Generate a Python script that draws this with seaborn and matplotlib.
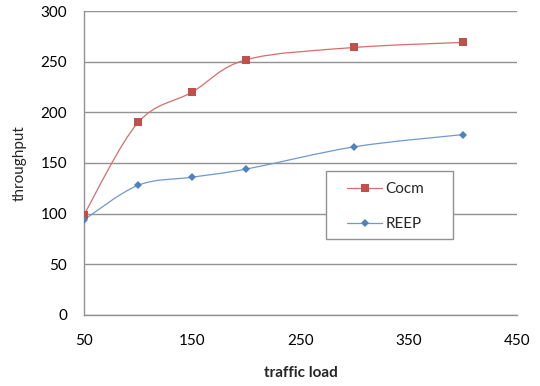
import matplotlib
matplotlib.use('Agg')
import matplotlib.pyplot as plt
from matplotlib.path import Path
from matplotlib.patches import PathPatch, Rectangle
import seaborn as sns
import pandas as pd
import numpy as np

traffic_load = [50, 100, 150, 200, 300, 400]
cocm = [99, 190, 220, 252, 264, 269]
reep = [94, 128, 136, 144, 166, 178]
x_ticks = [50, 150, 250, 350, 450]
y_ticks = [0, 50, 100, 150, 200, 250, 300]

red = '#C0504D'
blue = '#4F81BD'
red_line = '#D46E6C'
blue_line = '#7199CC'
grid = '#929292'

df = pd.DataFrame({'traffic load': traffic_load * 2,
                   'throughput': cocm + reep,
                   'series': ['Cocm'] * len(cocm) + ['REEP'] * len(reep)})

sns.set_style('white')
plt.rcParams['font.family'] = ['Lato', 'DejaVu Sans']

fig = plt.figure(figsize=(5.4, 3.86), dpi=100)
ax = fig.add_axes([0.1556, 0.184, 0.8014, 0.7875])


def smooth_path(xs, ys):
    # excel style smoothed line: cubic bezier through the points
    p = np.column_stack([xs, ys]).astype(float)
    ext = np.vstack([p[0], p, p[-1]])
    verts = [p[0]]
    codes = [Path.MOVETO]
    for i in range(1, len(ext) - 2):
        c1 = ext[i] + (ext[i + 1] - ext[i - 1]) / 6
        c2 = ext[i + 1] - (ext[i + 2] - ext[i]) / 6
        verts += [c1, c2, ext[i + 1]]
        codes += [Path.CURVE4] * 3
    return Path(verts, codes)


for name, col in [('Cocm', red_line), ('REEP', blue_line)]:
    d = df[df.series == name]
    ax.add_patch(PathPatch(smooth_path(d['traffic load'], d['throughput']),
                           facecolor='none', edgecolor=col, lw=0.9, zorder=3))

sns.lineplot(data=df, x='traffic load', y='throughput', hue='series', style='series',
             palette={'Cocm': red, 'REEP': blue}, markers={'Cocm': 's', 'REEP': 'D'},
             dashes=False, lw=0, ax=ax, legend=False, zorder=4,
             markeredgewidth=0)
for ln, ms in zip(ax.lines, [6, 4]):
    ln.set_markersize(ms)

ax.set_xlim(50, 450)
ax.set_ylim(0, 300)
ax.set_xticks(x_ticks)
ax.set_yticks(y_ticks)
ax.yaxis.grid(True, color=grid, lw=1.0)
ax.xaxis.grid(False)
ax.set_axisbelow(True)
for s in ['top', 'right']:
    ax.spines[s].set_visible(False)
for s in ['left', 'bottom']:
    ax.spines[s].set_color(grid)
    ax.spines[s].set_linewidth(1.0)
ax.tick_params(axis='both', length=0, labelsize=11, colors='#000000')
ax.tick_params(axis='x', pad=14)
ax.tick_params(axis='y', pad=12)
ax.set_xlabel('traffic load', fontsize=11, fontweight='bold', labelpad=13)
ax.set_ylabel('throughput', fontsize=11, labelpad=10)

# legend box
ax.add_patch(Rectangle((0.559, 0.25), 0.293, 0.224, transform=ax.transAxes,
                       facecolor='white', edgecolor=grid, lw=1.0, zorder=5))
handles = [plt.Line2D([], [], color=red_line, marker='s', ms=6, mew=0, lw=0.9,
                      markerfacecolor=red),
           plt.Line2D([], [], color=blue_line, marker='D', ms=4, mew=0, lw=0.9,
                      markerfacecolor=blue)]
leg = ax.legend(handles, ['Cocm', 'REEP'], loc='upper left',
                bbox_to_anchor=(0.608, 0.436), fontsize=11,
                frameon=False, borderpad=0, borderaxespad=0, labelspacing=1.35,
                handlelength=2.3, handletextpad=0.2)
leg.set_zorder(6)

fig.savefig('out.png', dpi=100)
